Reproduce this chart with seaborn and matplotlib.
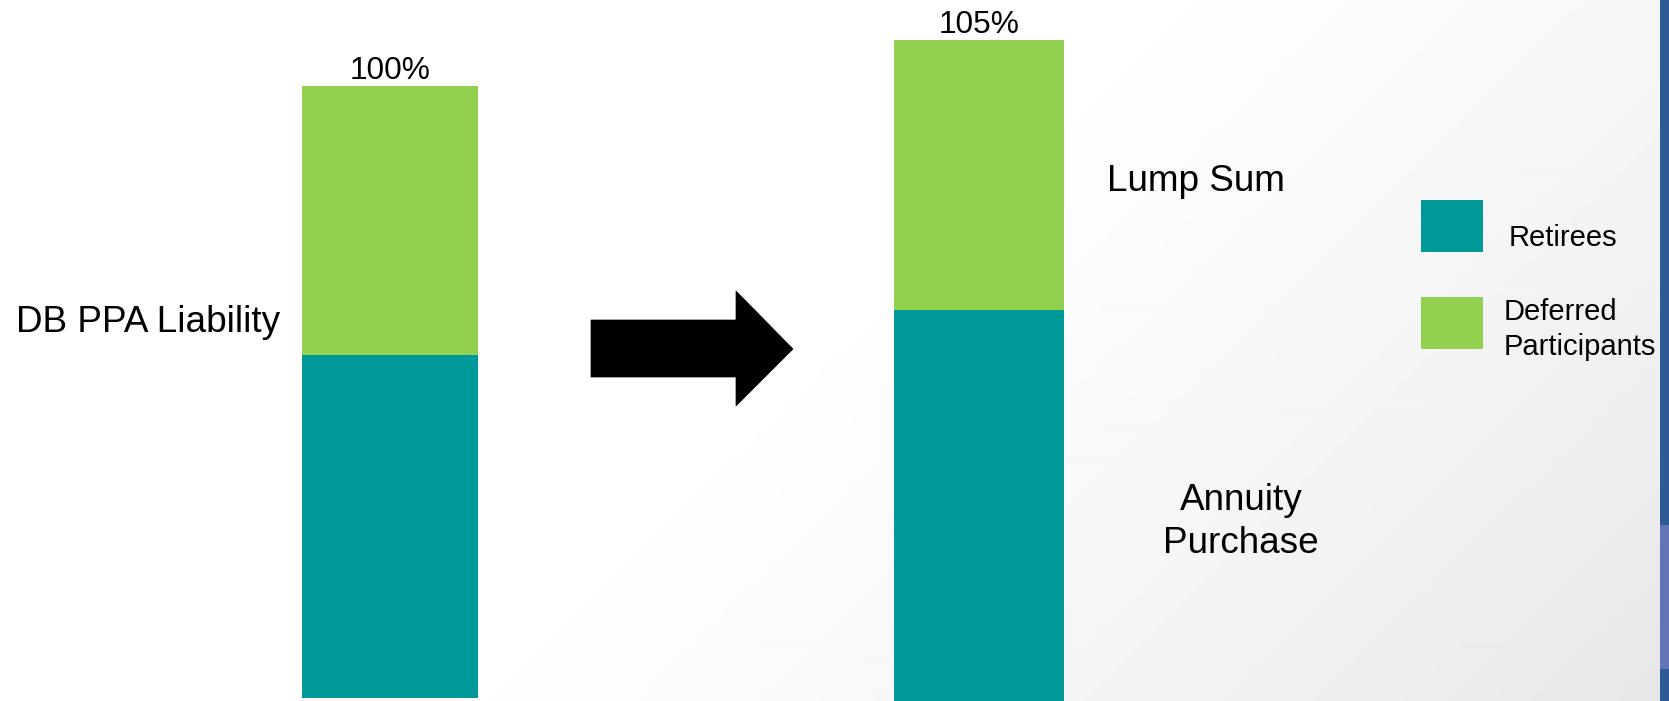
import numpy as np
import pandas as pd
import matplotlib
matplotlib.use("Agg")
import matplotlib.pyplot as plt
import seaborn as sns
from matplotlib.patches import Polygon, Rectangle

# ---- data ----
scenarios = ["DB PPA Liability", "Settlement"]
retirees = [56.0, 62.5]
deferred = [44.0, 42.5]
series_names = ["Retirees", "Deferred\nParticipants"]
side_labels = ["Lump Sum", "Annuity", "Purchase"]

TEAL = "#009999"
GREEN = "#92D050"

sns.set_theme(style="white")
plt.rcParams["font.family"] = ["Liberation Sans", "DejaVu Sans"]
plt.rcParams["text.color"] = "black"

W, H = 1669, 701
fig = plt.figure(figsize=(W / 100, H / 100), dpi=100)

# background overlay axes in pixel coordinates
bg = fig.add_axes([0, 0, 1, 1], zorder=0)
bg.set_xlim(0, W)
bg.set_ylim(H, 0)
bg.axis("off")
yy, xx = np.mgrid[0:H:2, 0:W:2]
t = np.clip(((xx - 700) / 970) * 0.75 + (yy / H) * 0.55 - 0.3, 0, 1) ** 1.3
g = 1.0 - 0.095 * t
bg.imshow(g, cmap="gray", vmin=0, vmax=1, extent=(0, W, H, 0), aspect="auto",
          interpolation="bilinear", zorder=0)

# arrow
arrow = Polygon([(591, 320), (736, 320), (736, 291), (793, 349), (736, 406),
                 (736, 377), (591, 377)], closed=True, facecolor="black",
                edgecolor="black", lw=0.5, zorder=2)
bg.add_patch(arrow)

# right blue strip
bg.add_patch(Rectangle((1660, 0), 9, H, facecolor="#2E5A98", lw=0, zorder=2))
bg.add_patch(Rectangle((1660, 525), 9, 144, facecolor="#6374B4", lw=0, zorder=3))

# texts
FS = 26.6
bg.text(16, 332, scenarios[0], fontsize=FS, ha="left", va="baseline", color="black")
bg.text(1107, 191, side_labels[0], fontsize=FS, ha="left", va="baseline", color="black")
bg.text(1241, 510, side_labels[1], fontsize=FS, ha="center", va="baseline", color="black")
bg.text(1241, 553, side_labels[2], fontsize=FS, ha="center", va="baseline", color="black")

# legend (manual)
LFS = 21
bg.add_patch(Rectangle((1421, 200), 62, 52, facecolor=TEAL, lw=0, zorder=2))
bg.add_patch(Rectangle((1421, 297), 62, 52, facecolor=GREEN, lw=0, zorder=2))
bg.text(1509, 246, series_names[0], fontsize=LFS, ha="left", va="baseline", color="black")
bg.text(1504, 320, series_names[1].split("\n")[0], fontsize=LFS, ha="left", va="baseline", color="black")
bg.text(1504, 355, series_names[1].split("\n")[1], fontsize=LFS, ha="left", va="baseline", color="black")

# bar axes (pixel boxes: left, right, y of zero, y of top, ymax)
boxes = [(302, 478, 698, 86, 100.0), (894, 1064, 706, 40, 105.0)]
for i, (x0, x1, y0, y1, ymax) in enumerate(boxes):
    ax = fig.add_axes([x0 / W, (H - y0) / H, (x1 - x0) / W, (y0 - y1) / H], zorder=5)
    ax.patch.set_alpha(0)
    total = retirees[i] + deferred[i]
    df = pd.DataFrame({"scenario": [scenarios[i]], "total": [total],
                       "retirees": [retirees[i]]})
    sns.barplot(data=df, x="scenario", y="total", color=GREEN, saturation=1,
                width=1, errorbar=None, ax=ax, linewidth=0)
    sns.barplot(data=df, x="scenario", y="retirees", color=TEAL, saturation=1,
                width=1, errorbar=None, ax=ax, linewidth=0)
    ax.set_xlim(-0.5, 0.5)
    ax.set_ylim(0, ymax)
    ax.annotate(f"{total:.0f}%", xy=(0, total), xytext=(0, 5),
                textcoords="offset points", ha="center", va="baseline",
                fontsize=22.8, color="black", annotation_clip=False)
    ax.axis("off")

fig.savefig("out.png", dpi=100)
